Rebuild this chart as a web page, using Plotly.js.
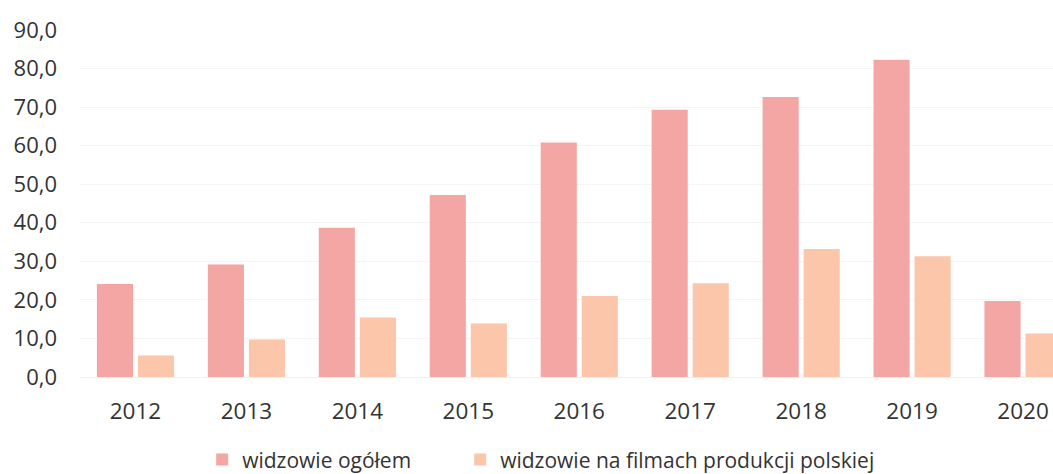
<!DOCTYPE html>
<html>
<head>
<meta charset="utf-8">
<script src="https://cdn.plot.ly/plotly-3.0.1.min.js"></script>
<style>
  html, body { margin: 0; padding: 0; background: #fff; }
  #div_plot { width: 1053px; height: 474px; }
</style>
</head>
<body>
<div id="div_plot"></div>
<script>
// widzowie w kinach (mln)
var years = ['2012', '2013', '2014', '2015', '2016', '2017', '2018', '2019', '2020'];
var widzowie_ogolem = [24.1, 29.2, 38.7, 47.2, 60.8, 69.3, 72.6, 82.3, 19.7];
var widzowie_polskie = [5.6, 9.7, 15.4, 13.9, 21.0, 24.3, 33.2, 31.3, 11.3];
var y_ticks = [0, 10, 20, 30, 40, 50, 60, 70, 80, 90];

var font_family = '"Open Sans", sans-serif';

var data = [
   {
      x: years,
      y: widzowie_ogolem,
      name: 'widzowie ogółem',
      type: 'bar',
      legend: 'legend',
      marker: { color: '#f4a6a4' }
   },
   {
      x: years,
      y: widzowie_polskie,
      name: 'widzowie na filmach produkcji polskiej',
      type: 'bar',
      legend: 'legend2',
      marker: { color: '#fbc6aa' }
   }
];

function legend_at(x){
   return {
      orientation: 'h',
      xref: 'container',
      yref: 'container',
      x: x,
      xanchor: 'left',
      y: 0.03,
      yanchor: 'middle',
      font: { size: 21, color: '#333' },
      itemwidth: 30
   };
}

var layout = {
   width: 1053,
   height: 474,
   margin: { l: 80, r: 0, t: 30, b: 97 },
   paper_bgcolor: '#fff',
   plot_bgcolor: '#fff',
   separators: ',.',
   barmode: 'group',
   bargap: 0.26,
   bargroupgap: 0.12,
   font: { family: font_family, size: 21, color: '#333' },
   showlegend: true,
   legend: legend_at(0.192),
   legend2: legend_at(0.437),
   xaxis: {
      type: 'category',
      range: [-0.5, 8.27],
      showgrid: false,
      showline: false,
      zeroline: false,
      ticks: '',
      ticklabelstandoff: 18,
      tickfont: { size: 22.5, color: '#333' }
   },
   yaxis: {
      range: [0, 90],
      tickvals: y_ticks,
      tickformat: '.1f',
      showgrid: true,
      gridcolor: '#f4f4f4',
      zeroline: true,
      zerolinecolor: '#efefef',
      ticks: '',
      ticklabelstandoff: 22,
      tickfont: { size: 22, color: '#333' }
   }
};

var config = {
   responsive: false,
   displayModeBar: false
};

Plotly.newPlot('div_plot', data, layout, config);
</script>
</body>
</html>
